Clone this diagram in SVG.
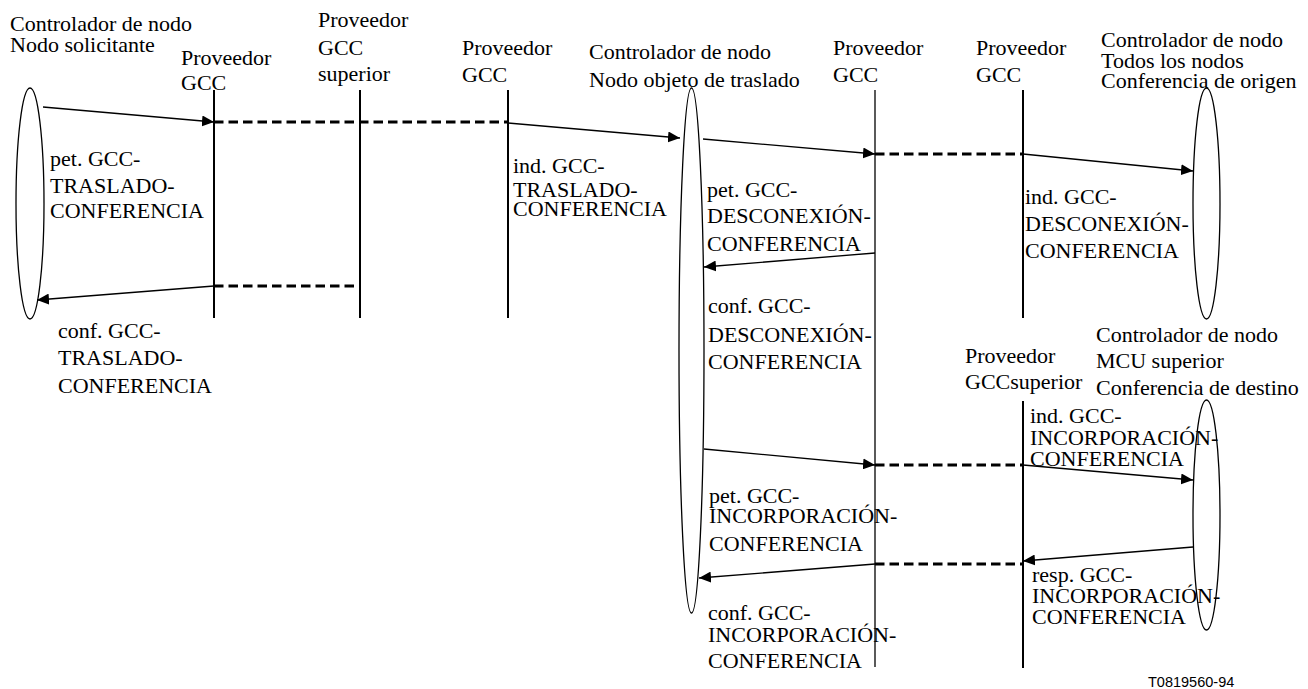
<svg xmlns="http://www.w3.org/2000/svg" width="1308" height="689" viewBox="0 0 1308 689">
<style>
.t{font-family:'Liberation Serif','DejaVu Serif','Times New Roman',serif;font-size:22px;fill:#000}
.ref{font-family:'Liberation Sans',Arial,sans-serif;font-size:14.5px;fill:#000}
.life{stroke:#000;stroke-width:2;fill:none}
.thin{stroke:#000;stroke-width:1.3;fill:none}
.act{stroke:#000;stroke-width:1.3;fill:none}
.msg{stroke:#000;stroke-width:1.3;fill:none;marker-end:url(#ah)}
.dash{stroke:#000;stroke-width:3;fill:none;stroke-dasharray:9.5 5}
</style>
<defs>
<marker id="ah" markerUnits="userSpaceOnUse" markerWidth="13" markerHeight="11" refX="12" refY="5.5" orient="auto">
<path d="M0,0 L12,5.5 L0,11 z" fill="#000"/>
</marker>
</defs>
<rect width="1308" height="689" fill="#fff"/>

<g font-family="Liberation Serif, DejaVu Serif, serif" font-size="22">
<g id="node-solicitante">
<ellipse class="act" cx="30" cy="203.5" rx="14" ry="115.5"/>
<text class="t"><tspan x="10" y="31">Controlador de nodo</tspan><tspan x="10" y="52">Nodo solicitante</tspan></text>
</g>
<g id="node-gcc1">
<text class="t"><tspan x="181" y="65">Proveedor</tspan><tspan x="181" y="90">GCC</tspan></text>
<line class="life" x1="214" y1="90" x2="214" y2="318"/>
</g>
<g id="node-gcc-superior1">
<text class="t"><tspan x="318" y="27">Proveedor</tspan><tspan x="318" y="55">GCC</tspan><tspan x="318" y="81">superior</tspan></text>
<line class="life" x1="360" y1="90" x2="360" y2="318"/>
</g>
<g id="node-gcc2">
<text class="t"><tspan x="462" y="55">Proveedor</tspan><tspan x="462" y="82">GCC</tspan></text>
<line class="life" x1="508" y1="90" x2="508" y2="318"/>
</g>
<g id="node-objeto">
<ellipse class="act" cx="691.5" cy="350.5" rx="12.5" ry="262.5"/>
<text class="t"><tspan x="589" y="59">Controlador de nodo</tspan><tspan x="589" y="87">Nodo objeto de traslado</tspan></text>
</g>
<g id="node-gcc3">
<text class="t"><tspan x="833" y="55">Proveedor</tspan><tspan x="833" y="82">GCC</tspan></text>
<line class="thin" x1="875" y1="90" x2="875" y2="667"/>
</g>
<g id="node-gcc4">
<text class="t"><tspan x="976" y="55">Proveedor</tspan><tspan x="976" y="82">GCC</tspan></text>
<line class="life" x1="1023" y1="90" x2="1023" y2="318"/>
</g>
<g id="node-origen">
<ellipse class="act" cx="1206.5" cy="203.5" rx="13.5" ry="115.5"/>
<text class="t"><tspan x="1101" y="47">Controlador de nodo</tspan><tspan x="1101" y="68">Todos los nodos</tspan><tspan x="1101" y="88">Conferencia de origen</tspan></text>
</g>
<g id="node-gcc-superior2">
<text class="t"><tspan x="965" y="363">Proveedor</tspan><tspan x="965" y="389">GCCsuperior</tspan></text>
<line class="life" x1="1023" y1="401" x2="1023" y2="668"/>
</g>
<g id="node-destino">
<ellipse class="act" cx="1206.5" cy="515" rx="13.5" ry="115"/>
<text class="t"><tspan x="1096" y="342">Controlador de nodo</tspan><tspan x="1096" y="368">MCU superior</tspan><tspan x="1096" y="395">Conferencia de destino</tspan></text>
</g>

<g id="connectors">
<line class="msg" x1="43" y1="107" x2="214" y2="122"/>
<line class="dash" x1="214" y1="122" x2="508" y2="122"/>
<line class="msg" x1="508" y1="123" x2="680" y2="138"/>
<line class="msg" x1="703" y1="139" x2="875" y2="154"/>
<line class="dash" x1="875" y1="154" x2="1023" y2="154"/>
<line class="msg" x1="1023" y1="154" x2="1193" y2="171"/>
<line class="msg" x1="875" y1="253" x2="704" y2="267"/>
<line class="dash" x1="214" y1="286" x2="360" y2="286"/>
<line class="msg" x1="214" y1="286" x2="37" y2="300"/>
<line class="msg" x1="704" y1="449" x2="875" y2="465"/>
<line class="dash" x1="875" y1="465" x2="1023" y2="465"/>
<line class="msg" x1="1023" y1="465" x2="1193" y2="480"/>
<line class="msg" x1="1193" y1="547" x2="1023" y2="561"/>
<line class="dash" x1="875" y1="564" x2="1023" y2="564"/>
<line class="msg" x1="875" y1="564" x2="699" y2="578"/>
</g>

<g id="labels">
<text class="t"><tspan x="50" y="166">pet. GCC-</tspan><tspan x="50" y="193">TRASLADO-</tspan><tspan x="50" y="218">CONFERENCIA</tspan></text>
<text class="t"><tspan x="58" y="338">conf. GCC-</tspan><tspan x="58" y="365">TRASLADO-</tspan><tspan x="58" y="393">CONFERENCIA</tspan></text>
<text class="t"><tspan x="513" y="173">ind. GCC-</tspan><tspan x="513" y="197">TRASLADO-</tspan><tspan x="513" y="216">CONFERENCIA</tspan></text>
<text class="t"><tspan x="707" y="197">pet. GCC-</tspan><tspan x="707" y="223">DESCONEXIÓN-</tspan><tspan x="707" y="251">CONFERENCIA</tspan></text>
<text class="t"><tspan x="1025" y="204">ind. GCC-</tspan><tspan x="1025" y="231">DESCONEXIÓN-</tspan><tspan x="1025" y="258">CONFERENCIA</tspan></text>
<text class="t"><tspan x="708" y="313">conf. GCC-</tspan><tspan x="708" y="342">DESCONEXIÓN-</tspan><tspan x="708" y="369">CONFERENCIA</tspan></text>
<text class="t"><tspan x="1030" y="423">ind. GCC-</tspan><tspan x="1030" y="445">INCORPORACIÓN-</tspan><tspan x="1030" y="466">CONFERENCIA</tspan></text>
<text class="t"><tspan x="709" y="503">pet. GCC-</tspan><tspan x="709" y="523">INCORPORACIÓN-</tspan><tspan x="709" y="551">CONFERENCIA</tspan></text>
<text class="t"><tspan x="1032" y="582">resp. GCC-</tspan><tspan x="1032" y="603">INCORPORACIÓN-</tspan><tspan x="1032" y="624">CONFERENCIA</tspan></text>
<text class="t"><tspan x="708" y="620">conf. GCC-</tspan><tspan x="708" y="642">INCORPORACIÓN-</tspan><tspan x="708" y="668">CONFERENCIA</tspan></text>
<text class="ref" x="1148" y="687">T0819560-94</text>
</g>
</g>
</svg>
